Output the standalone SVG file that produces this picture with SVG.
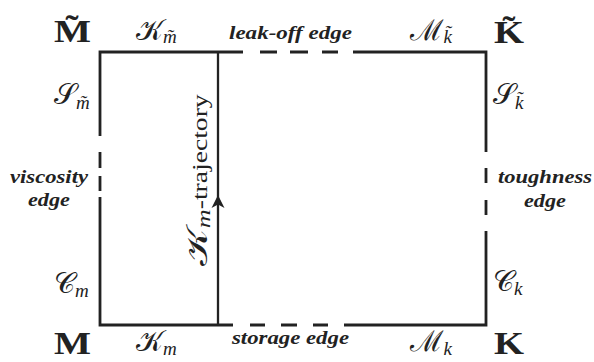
<svg xmlns="http://www.w3.org/2000/svg" width="594" height="362" viewBox="0 0 594 362">
<style>
.big{font-family:"Liberation Serif",serif;font-weight:bold;font-size:32px;fill:#222}
.cal{font-family:"DejaVu Serif","Noto Sans",serif;font-size:29px;fill:#222}
.sub{font-family:"Liberation Serif",serif;font-style:italic;font-size:19px;fill:#222}
.edge{font-family:"Liberation Serif",serif;font-style:italic;font-weight:bold;font-size:19px;fill:#222}
.traj{font-family:"Liberation Serif",serif;font-size:20px;fill:#222}
.ln{stroke:#222;stroke-width:2.8;fill:none}
</style>
<g id="connectors">
<path class="ln" d="M243,52 H100 V136 M100,152 V168 M100,176 V191 M100,197 V325 H233"/>
<path class="ln" d="M260,52 H277 M290,52 H308 M322,52 H338"/>
<path class="ln" d="M250,325 H265 M281,325 H297 M313,325 H328"/>
<path class="ln" d="M353,52 H486 V152 M486,168 V183 M486,200 V215 M486,231 V325 H344"/>
<path stroke="#222" stroke-width="2.3" fill="none" d="M218,325 V52"/>
<path d="M218,195 L224.5,208 L218,204.5 L211.5,208 Z" fill="#222"/>
</g>
<g id="corner-Mt"><text class="big" x="54" y="42" textLength="37" lengthAdjust="spacingAndGlyphs">M̃</text></g>
<g id="corner-Kt"><text class="big" x="494" y="43" textLength="30" lengthAdjust="spacingAndGlyphs">K̃</text></g>
<g id="corner-M"><text class="big" x="54" y="354" textLength="37" lengthAdjust="spacingAndGlyphs">M</text></g>
<g id="corner-K"><text class="big" x="494" y="354" textLength="30" lengthAdjust="spacingAndGlyphs">K</text></g>
<g id="lbl-Kmt"><text x="136" y="40"><tspan class="cal">𝒦</tspan><tspan class="sub" dy="3">m̃</tspan></text></g>
<g id="lbl-Mkt"><text x="410" y="40"><tspan class="cal">ℳ</tspan><tspan class="sub" dy="3">k̃</tspan></text></g>
<g id="lbl-Smt"><text x="54" y="104"><tspan class="cal">𝒮</tspan><tspan class="sub" dy="5">m̃</tspan></text></g>
<g id="lbl-Skt"><text x="493" y="104"><tspan class="cal">𝒮</tspan><tspan class="sub" dy="5">k̃</tspan></text></g>
<g id="lbl-Cm"><text x="54" y="293"><tspan class="cal">𝒞</tspan><tspan class="sub" dy="4">m</tspan></text></g>
<g id="lbl-Ck"><text x="493" y="291"><tspan class="cal">𝒞</tspan><tspan class="sub" dy="4">k</tspan></text></g>
<g id="lbl-Km"><text x="136" y="351"><tspan class="cal">𝒦</tspan><tspan class="sub" dy="4">m</tspan></text></g>
<g id="lbl-Mk"><text x="410" y="351"><tspan class="cal">ℳ</tspan><tspan class="sub" dy="4">k</tspan></text></g>
<g id="lbl-leak"><text class="edge" x="229" y="39" textLength="123" lengthAdjust="spacingAndGlyphs">leak-off edge</text></g>
<g id="lbl-storage"><text class="edge" x="232" y="344" textLength="117" lengthAdjust="spacingAndGlyphs">storage edge</text></g>
<g id="lbl-visc"><text class="edge" x="10" y="183" textLength="78" lengthAdjust="spacingAndGlyphs">viscosity</text><text class="edge" x="28" y="206" textLength="42" lengthAdjust="spacingAndGlyphs">edge</text></g>
<g id="lbl-tough"><text class="edge" x="498" y="183" textLength="94" lengthAdjust="spacingAndGlyphs">toughness</text><text class="edge" x="524" y="207" textLength="42" lengthAdjust="spacingAndGlyphs">edge</text></g>
<g id="lbl-traj"><text transform="translate(207,266) rotate(-90) scale(1.38,1)"><tspan class="cal" font-size="20">𝒦</tspan><tspan class="sub" font-size="14" dy="3">m</tspan><tspan class="traj" dy="-3">-trajectory</tspan></text></g>
</svg>
